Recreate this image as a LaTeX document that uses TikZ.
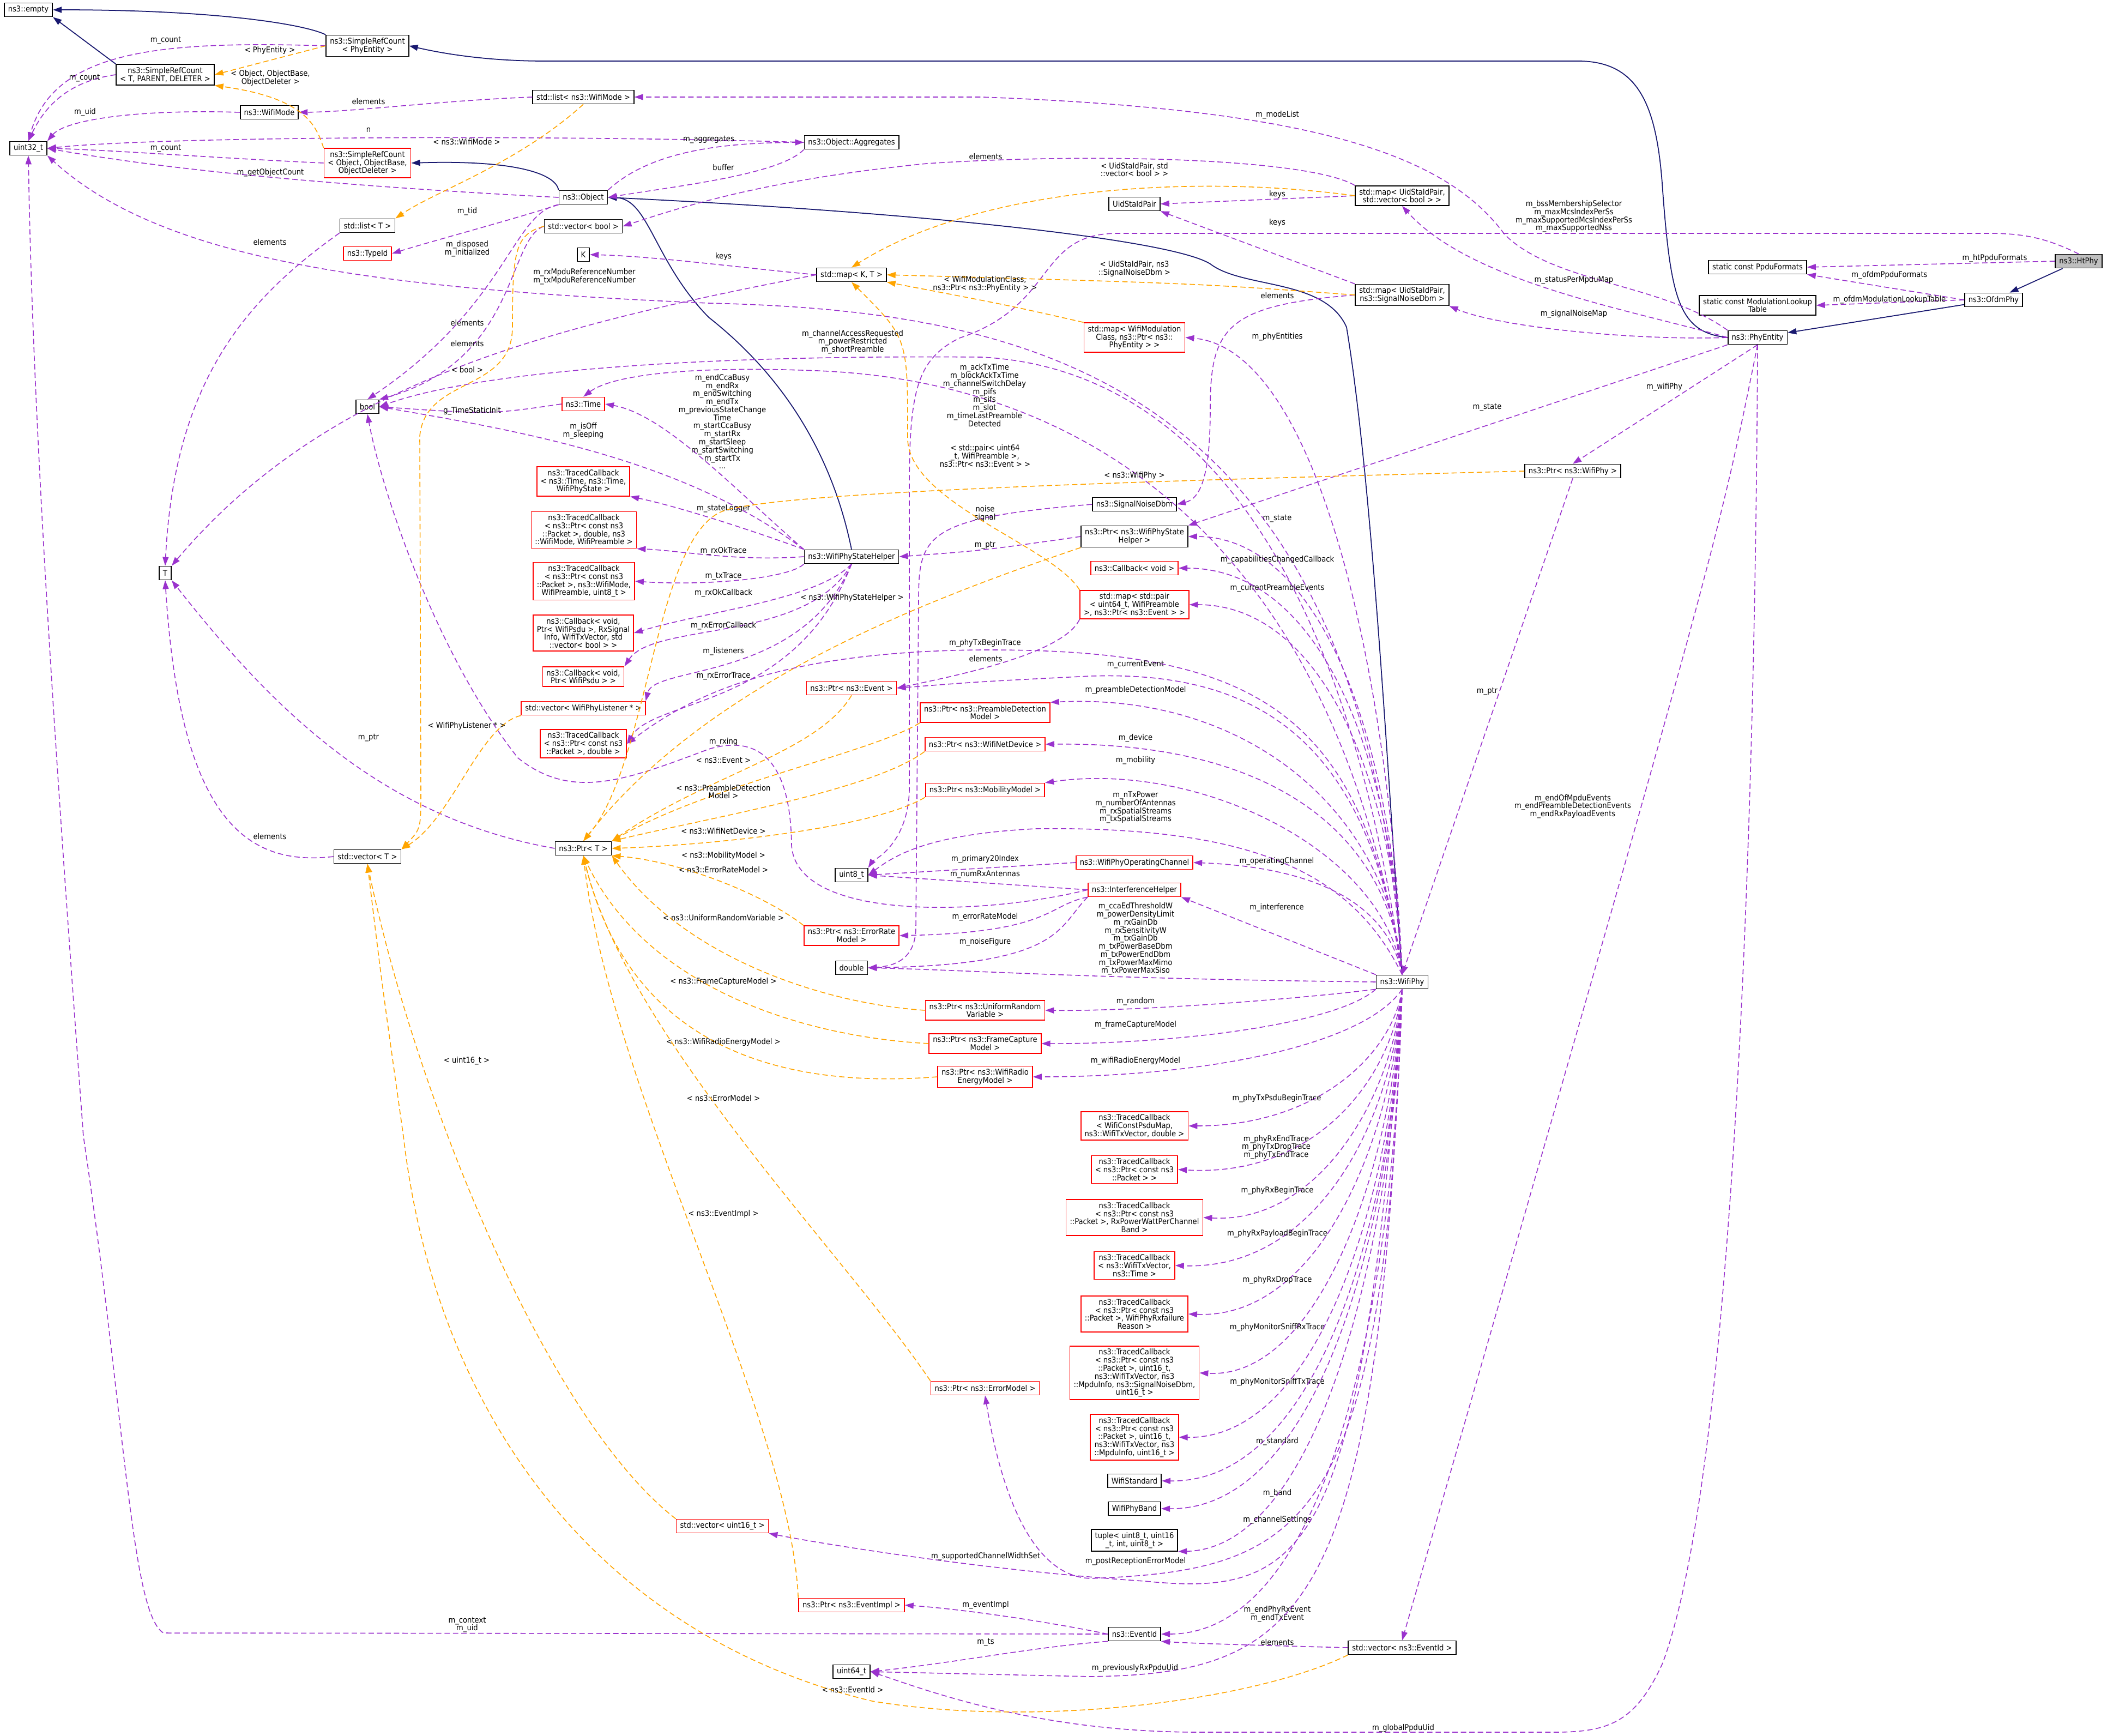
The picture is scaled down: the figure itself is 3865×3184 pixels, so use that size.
\documentclass[tikz,border=0pt]{standalone}
\usepackage{fontspec}
\setmainfont{DejaVu Sans Condensed}
\usetikzlibrary{arrows.meta}
\definecolor{pur}{HTML}{9A32CD}
\definecolor{org}{HTML}{FFA500}
\definecolor{nvy}{HTML}{191970}
\newcommand\ft{\fontsize{4.15}{4.2}\selectfont}
\tikzset{
 box/.style={draw=black,line width=0.5pt,fill=white,align=center,inner xsep=0.07cm,inner ysep=0.05cm,minimum height=0.25cm,font=\ft},
 rbox/.style={box,draw=red},
 lab/.style={font=\ft,align=center,inner sep=0pt},
 tip/.style={-{Triangle[length=0.16cm,width=0.11cm]}},
 pu/.style={draw=pur,line width=0.45pt,dash pattern=on 2.8pt off 1.6pt,tip,pur},
 og/.style={draw=org,line width=0.45pt,dash pattern=on 2.8pt off 1.6pt,tip,org},
 nv/.style={draw=nvy,line width=0.5pt,tip,nvy},
}
\begin{document}
\begin{tikzpicture}[x=0.01cm,y=-0.01cm]
\useasboundingbox[fill=white] (0,0) rectangle (3865,3184);
% nodes
\node[box] (empty) at (52,18) {ns3::empty};
\node[box] (srcPE) at (674,84) {ns3::SimpleRefCount\\< PhyEntity >};
\node[box] (srcT) at (303,137) {ns3::SimpleRefCount\\< T, PARENT, DELETER >};
\node[box] (listWM) at (1070,178) {std::list< ns3::WifiMode >};
\node[box] (wifiMode) at (494,206) {ns3::WifiMode};
\node[box] (u32) at (52,272) {uint32\_t};
\node[rbox] (srcObj) at (674,299) {ns3::SimpleRefCount\\< Object, ObjectBase,\\ObjectDeleter >};
\node[box] (object) at (1070,362) {ns3::Object};
\node[box] (aggr) at (1562,261) {ns3::Object::Aggregates};
\node[box] (listT) at (674,414) {std::list< T >};
\node[box] (vecBool) at (1070,415) {std::vector< bool >};
\node[rbox] (typeId) at (674,465) {ns3::TypeId};
\node[box] (K) at (1070,467) {K};
\node[box] (uidsta) at (2081,374) {UidStaIdPair};
\node[box] (mapUV) at (2572,359) {std::map< UidStaIdPair,\\std::vector< bool > >};
\node[box] (mapKT) at (1562,504) {std::map< K, T >};
\node[box] (mapUS) at (2572,541) {std::map< UidStaIdPair,\\ns3::SignalNoiseDbm >};
\node[rbox] (mapWM) at (2081,619) {std::map< WifiModulation\\Class, ns3::Ptr< ns3::\\PhyEntity > >};
\node[box] (ppdu) at (3224,490) {static const PpduFormats};
\node[box] (mlt) at (3224,560) {static const ModulationLookup\\Table};
\node[box,fill=black!25] (htphy) at (3813,479) {ns3::HtPhy};
\node[box] (ofdm) at (3657,550) {ns3::OfdmPhy};
\node[box] (phyEnt) at (3224,619) {ns3::PhyEntity};
\node[box] (boolN) at (674,746) {bool};
\node[rbox] (timeN) at (1070,741) {ns3::Time};
\node[rbox] (tcTime) at (1070,883) {ns3::TracedCallback\\< ns3::Time, ns3::Time,\\WifiPhyState >};
\node[rbox] (tcRxOk) at (1071,972) {ns3::TracedCallback\\< ns3::Ptr< const ns3\\::Packet >, double, ns3\\::WifiMode, WifiPreamble >};
\node[rbox] (tcTx) at (1071,1066) {ns3::TracedCallback\\< ns3::Ptr< const ns3\\::Packet >, ns3::WifiMode,\\WifiPreamble, uint8\_t >};
\node[box] (T) at (303,1051) {T};
\node[box] (ptrWifiPhy) at (2885,864) {ns3::Ptr< ns3::WifiPhy >};
\node[box] (sndbm) at (2081,925) {ns3::SignalNoiseDbm};
\node[box] (ptrWPSH) at (2081,984) {ns3::Ptr< ns3::WifiPhyState\\Helper >};
\node[box] (wpsh) at (1562,1021) {ns3::WifiPhyStateHelper};
\node[rbox] (cbVoid) at (2081,1042) {ns3::Callback< void >};
\node[rbox] (cbRxOk) at (1070,1161) {ns3::Callback< void,\\Ptr< WifiPsdu >, RxSignal\\Info, WifiTxVector, std\\::vector< bool > >};
\node[rbox] (mapPair) at (2081,1109) {std::map< std::pair\\< uint64\_t, WifiPreamble\\>, ns3::Ptr< ns3::Event > >};
\node[rbox] (cbRxErr) at (1070,1241) {ns3::Callback< void,\\Ptr< WifiPsdu > >};
\node[rbox] (ptrEvent) at (1562,1262) {ns3::Ptr< ns3::Event >};
\node[rbox] (vecListener) at (1070,1299) {std::vector< WifiPhyListener * >};
\node[rbox] (ptrPDM) at (1807,1307) {ns3::Ptr< ns3::PreambleDetection\\Model >};
\node[rbox] (ptrWND) at (1807,1365) {ns3::Ptr< ns3::WifiNetDevice >};
\node[rbox] (tcRxErr) at (1070,1364) {ns3::TracedCallback\\< ns3::Ptr< const ns3\\::Packet >, double >};
\node[rbox] (ptrMM) at (1807,1449) {ns3::Ptr< ns3::MobilityModel >};
\node[box] (ptrT) at (1070,1556) {ns3::Ptr< T >};
\node[box] (vecT) at (674,1571) {std::vector< T >};
\node[rbox] (opch) at (2081,1582) {ns3::WifiPhyOperatingChannel};
\node[box] (u8) at (1562,1605) {uint8\_t};
\node[rbox] (ifh) at (2081,1632) {ns3::InterferenceHelper};
\node[rbox] (ptrERM) at (1562,1716) {ns3::Ptr< ns3::ErrorRate\\Model >};
\node[box] (dbl) at (1562,1775) {double};
\node[box] (wifiPhy) at (2572,1801) {ns3::WifiPhy};
\node[rbox] (ptrURV) at (1807,1853) {ns3::Ptr< ns3::UniformRandom\\Variable >};
\node[rbox] (ptrFCM) at (1807,1914) {ns3::Ptr< ns3::FrameCapture\\Model >};
\node[rbox] (ptrWREM) at (1807,1975) {ns3::Ptr< ns3::WifiRadio\\EnergyModel >};
\node[rbox] (tcPsdu) at (2081,2065) {ns3::TracedCallback\\< WifiConstPsduMap,\\ns3::WifiTxVector, double >};
\node[rbox] (tcPkt) at (2081,2145) {ns3::TracedCallback\\< ns3::Ptr< const ns3\\::Packet > >};
\node[rbox] (tcRxPow) at (2081,2233) {ns3::TracedCallback\\< ns3::Ptr< const ns3\\::Packet >, RxPowerWattPerChannel\\Band >};
\node[rbox] (tcTxVec) at (2081,2321) {ns3::TracedCallback\\< ns3::WifiTxVector,\\ns3::Time >};
\node[rbox] (tcFail) at (2081,2410) {ns3::TracedCallback\\< ns3::Ptr< const ns3\\::Packet >, WifiPhyRxfailure\\Reason >};
\node[rbox] (tcSniffRx) at (2081,2518) {ns3::TracedCallback\\< ns3::Ptr< const ns3\\::Packet >, uint16\_t,\\ns3::WifiTxVector, ns3\\::MpduInfo, ns3::SignalNoiseDbm,\\uint16\_t >};
\node[rbox] (ptrEM) at (1807,2546) {ns3::Ptr< ns3::ErrorModel >};
\node[rbox] (tcSniffTx) at (2081,2636) {ns3::TracedCallback\\< ns3::Ptr< const ns3\\::Packet >, uint16\_t,\\ns3::WifiTxVector, ns3\\::MpduInfo, uint16\_t >};
\node[box] (wstd) at (2081,2716) {WifiStandard};
\node[box] (wband) at (2081,2767) {WifiPhyBand};
\node[rbox] (vecU16) at (1325,2799) {std::vector< uint16\_t >};
\node[box] (tuple) at (2081,2825) {tuple< uint8\_t, uint16\\\_t, int, uint8\_t >};
\node[rbox] (ptrEI) at (1562,2944) {ns3::Ptr< ns3::EventImpl >};
\node[box] (eventId) at (2081,2997) {ns3::EventId};
\node[box] (vecEID) at (2572,3022) {std::vector< ns3::EventId >};
\node[box] (u64) at (1562,3066) {uint64\_t};

% inheritance
\draw[nv] (srcPE.north west) .. controls (560,45) and (400,18) .. (empty.east);
\draw[nv] (srcT.north west) -- (empty.south east);
\draw[nv] (phyEnt.west) .. controls (3080,610) and (3065,550) .. (3050,350) .. controls (3040,200) and (3010,112) .. (2895,112) -- (1000,112) .. controls (900,112) and (820,100) .. (srcPE.east);
\draw[nv] (object.north west) .. controls (1020,320) and (950,293) .. (srcObj.east);
\draw[nv] (wifiPhy.north) .. controls (2550,1500) and (2520,900) .. (2470,600) .. controls (2430,510) and (2280,530) .. (2220,484) .. controls (2150,440) and (1700,390) .. (object.east);
\draw[nv] (wpsh.north) .. controls (1530,850) and (1450,700) .. (1300,582) .. controls (1200,480) and (1190,365) .. (object.east);
\draw[nv] (ofdm) -- (phyEnt);
\draw[nv] (htphy) -- (ofdm);

% purple usage
\draw[pu] (srcPE.west) .. controls (300,75) and (100,90) .. (u32.north);
\node[lab] (l1) at (304,74) {m\_count};
\draw[pu] (srcT.west) .. controls (120,150) and (80,200) .. (u32.north);
\node[lab] (l2) at (155,143) {m\_count};
\draw[pu] (wifiMode.west) .. controls (250,200) and (120,220) .. (u32.north east);
\node[lab] (l3) at (156,206) {m\_uid};
\draw[pu] (aggr.west) .. controls (1000,247) and (300,250) .. (u32.east);
\node[lab] (l4) at (676,238) {n};
\draw[pu] (srcObj.west) .. controls (400,290) and (200,275) .. (u32.east);
\node[lab] (l5) at (304,272) {m\_count};
\draw[pu] (object.west) .. controls (600,340) and (300,310) .. (u32.east);
\node[lab] (l6) at (496,317) {m\_getObjectCount};
\draw[pu] (wifiPhy.north) .. controls (2500,700) and (1900,570) .. (1300,556) .. controls (700,530) and (300,480) .. (u32.south east);
\node[lab] (l7) at (1072,507) {m\_rxMpduReferenceNumber\\m\_txMpduReferenceNumber};
\draw[pu] (eventId.west) -- (300,2995) .. controls (240,2960) and (230,2600) .. (153,2084) .. controls (110,1500) and (60,800) .. (u32.south);
\node[lab] (l8) at (857,2980) {m\_context\\m\_uid};
\draw[pu] (listT.south west) .. controls (450,550) and (320,700) .. (T.north);
\node[lab] (l9) at (495,444) {elements};
\draw[pu] (mapKT.west) .. controls (1000,600) and (600,700) .. (T.north east);
\node[lab] (l10) at (857,592) {elements};
\draw[pu] (vecT.west) .. controls (450,1590) and (330,1500) .. (T.south);
\node[lab] (l11) at (495,1534) {elements};
\draw[pu] (ptrT.west) .. controls (700,1500) and (500,1300) .. (T.south east);
\node[lab] (l12) at (676,1353) {m\_ptr};
\draw[pu] (mapKT.west) .. controls (1350,490) and (1200,470) .. (K.east);
\node[lab] (l13) at (1327,470) {keys};
\draw[pu] (object.south west) .. controls (950,400) and (800,440) .. (typeId.east);
\node[lab] (l14) at (857,388) {m\_tid};
\draw[pu] (object.south west) .. controls (940,390) and (930,560) .. (boolN.north);
\node[lab] (l15) at (857,456) {m\_disposed\\m\_initialized};
\draw[pu] (object.north east) .. controls (1200,270) and (1350,262) .. (aggr.west);
\node[lab] (l16) at (1300,256) {m\_aggregates};
\draw[pu] (aggr.south west) .. controls (1430,320) and (1250,340) .. (object.east);
\node[lab] (l17) at (1327,307) {buffer};
\draw[pu] (vecBool.west) .. controls (930,440) and (950,660) .. (boolN.north east);
\node[lab] (l18) at (857,630) {elements};
\draw[pu] (timeN.west) .. controls (900,760) .. (boolN.east);
\node[lab] (l19) at (866,754) {g\_TimeStaticInit};
\draw[pu] (wpsh.north west) .. controls (1250,840) and (950,790) .. (boolN.east);
\node[lab] (l20) at (1070,790) {m\_isOff\\m\_sleeping};
\draw[pu] (wifiPhy.north) .. controls (2450,900) and (2100,670) .. (1800,655) .. controls (1200,650) and (850,690) .. (boolN.east);
\node[lab] (l21) at (1564,627) {m\_channelAccessRequested\\m\_powerRestricted\\m\_shortPreamble};
\draw[pu] (wpsh.north west) .. controls (1350,900) and (1220,760) .. (timeN.east);
\node[lab] (l22) at (1325,773) {m\_endCcaBusy\\m\_endRx\\m\_endSwitching\\m\_endTx\\m\_previousStateChange\\Time\\m\_startCcaBusy\\m\_startRx\\m\_startSleep\\m\_startSwitching\\m\_startTx\\...};
\draw[pu] (wifiPhy.north) .. controls (2450,1000) and (2000,700) .. (1500,680) .. controls (1250,670) and (1120,690) .. (timeN.north);
\node[lab] (l23) at (1806,725) {m\_ackTxTime\\m\_blockAckTxTime\\m\_channelSwitchDelay\\m\_pifs\\m\_sifs\\m\_slot\\m\_timeLastPreamble\\Detected};
\draw[pu] (listWM.west) .. controls (800,185) and (650,205) .. (wifiMode.east);
\node[lab] (l24) at (676,186) {elements};
\draw[pu] (phyEnt.north west) .. controls (3050,520) and (2850,520) .. (2760,430) .. controls (2650,280) and (2400,200) .. (1800,178) -- (listWM.east);
\node[lab] (l25) at (2343,211) {m\_modeList};
\draw[pu] (htphy.north) .. controls (3760,440) and (3720,428) .. (3650,428) -- (2050,428) .. controls (1900,428) and (1940,560) .. (1760,620) .. controls (1680,660) and (1668,720) .. (1668,900) -- (1668,1450) .. controls (1665,1550) and (1600,1580) .. (u8.north east);
\node[lab] (l26) at (2887,397) {m\_bssMembershipSelector\\m\_maxMcsIndexPerSs\\m\_maxSupportedMcsIndexPerSs\\m\_maxSupportedNss};
\draw[pu] (mapUV.west) -- (uidsta.east);
\node[lab] (l27) at (2343,356) {keys};
\draw[pu] (mapUV.north west) .. controls (2400,290) and (2000,280) .. (1700,300) .. controls (1400,330) and (1250,380) .. (vecBool.east);
\node[lab] (l28) at (1808,287) {elements};
\draw[pu] (mapUS.north west) -- (uidsta.south east);
\node[lab] (l29) at (2343,408) {keys};
\draw[pu] (mapUS.west) .. controls (2250,560) and (2220,600) .. (2220,750) .. controls (2220,880) and (2200,915) .. (sndbm.east);
\node[lab] (l30) at (2343,542) {elements};
\draw[pu] (wifiPhy.north) .. controls (2550,1250) and (2420,640) .. (mapWM.east);
\node[lab] (l31) at (2343,618) {m\_phyEntities};
\draw[pu] (phyEnt.west) .. controls (3000,570) and (2700,520) .. (mapUV.south);
\node[lab] (l32) at (2887,514) {m\_statusPerMpduMap};
\draw[pu] (phyEnt.west) .. controls (3000,625) and (2750,600) .. (mapUS.south east);
\node[lab] (l33) at (2887,576) {m\_signalNoiseMap};
\draw[pu] (phyEnt.south west) -- (ptrWPSH.north east);
\node[lab] (l34) at (2728,747) {m\_state};
\draw[pu] (phyEnt.south) -- (ptrWifiPhy.north);
\node[lab] (l35) at (3053,710) {m\_wifiPhy};
\draw[pu] (phyEnt.south) .. controls (3150,1000) .. (vecEID.north);
\node[lab] (l36) at (2885,1479) {m\_endOfMpduEvents\\m\_endPreambleDetectionEvents\\m\_endRxPayloadEvents};
\draw[pu] (phyEnt.south) .. controls (3220,1500) and (3180,2700) .. (3050,3050) .. controls (3000,3160) and (2950,3177) .. (2850,3177) -- (2200,3177) .. controls (1900,3177) and (1700,3100) .. (u64.east);
\node[lab] (l37) at (2574,3170) {m\_globalPpduUid};
\draw[pu] (htphy.west) -- (ppdu.east);
\node[lab] (l38) at (3659,474) {m\_htPpduFormats};
\draw[pu] (ofdm.west) -- (ppdu.south east);
\node[lab] (l39) at (3466,505) {m\_ofdmPpduFormats};
\draw[pu] (ofdm.west) -- (mlt.east);
\node[lab] (l40) at (3466,550) {m\_ofdmModulationLookupTable};
\draw[pu] (ptrWifiPhy.south) -- (wifiPhy.north);
\node[lab] (l41) at (2728,1268) {m\_ptr};
\draw[pu] (wifiPhy.north) .. controls (2555,1350) and (2420,984) .. (ptrWPSH.east);
\node[lab] (l42) at (2343,951) {m\_state};
\draw[pu] (ptrWPSH.west) .. controls (1800,1010) .. (wpsh.east);
\node[lab] (l43) at (1807,1000) {m\_ptr};
\draw[pu] (sndbm.west) .. controls (1700,950) and (1685,980) .. (1685,1100) -- (1680,1700) .. controls (1680,1760) and (1640,1772) .. (dbl.east);
\node[lab] (l44) at (1807,942) {noise\\signal};
\draw[pu] (wifiPhy.north) .. controls (2555,1380) and (2420,1042) .. (cbVoid.east);
\node[lab] (l45) at (2343,1027) {m\_capabilitiesChangedCallback};
\draw[pu] (wifiPhy.north) .. controls (2555,1420) and (2420,1109) .. (mapPair.east);
\node[lab] (l46) at (2343,1079) {m\_currentPreambleEvents};
\draw[pu] (wpsh.north west) .. controls (1400,980) and (1250,930) .. (tcTime.south east);
\node[lab] (l47) at (1327,933) {m\_stateLogger};
\draw[pu] (wpsh.west) .. controls (1350,1030) and (1250,1010) .. (tcRxOk.south east);
\node[lab] (l48) at (1327,1011) {m\_rxOkTrace};
\draw[pu] (wpsh.south west) .. controls (1450,1060) and (1300,1075) .. (tcTx.east);
\node[lab] (l49) at (1327,1057) {m\_txTrace};
\draw[pu] (wpsh.south) .. controls (1500,1100) and (1300,1120) .. (cbRxOk.east);
\node[lab] (l50) at (1327,1088) {m\_rxOkCallback};
\draw[pu] (wpsh.south) .. controls (1480,1180) and (1200,1140) .. (cbRxErr.north east);
\node[lab] (l51) at (1327,1148) {m\_rxErrorCallback};
\draw[pu] (wpsh.south) .. controls (1470,1250) and (1200,1220) .. (vecListener.north east);
\node[lab] (l52) at (1327,1195) {m\_listeners};
\draw[pu] (wpsh.south) .. controls (1460,1300) and (1200,1280) .. (tcRxErr.east);
\node[lab] (l53) at (1327,1240) {m\_rxErrorTrace};
\draw[pu] (wifiPhy.north) .. controls (2500,1300) and (2300,1190) .. (1800,1192) .. controls (1400,1195) and (1250,1290) .. (tcRxErr.east);
\node[lab] (l54) at (1807,1180) {m\_phyTxBeginTrace};
\draw[pu] (wifiPhy.north) .. controls (2510,1350) and (2300,1230) .. (2000,1240) .. controls (1800,1250) .. (ptrEvent.east);
\node[lab] (l55) at (2083,1219) {m\_currentEvent};
\draw[pu] (mapPair.south west) .. controls (1950,1200) and (1750,1240) .. (ptrEvent.east);
\node[lab] (l56) at (1808,1208) {elements};
\draw[pu] (ifh.west) .. controls (1800,1680) and (1460,1690) .. (1452,1550) .. controls (1450,1380) and (1380,1350) .. (1300,1374) .. controls (1150,1430) and (1050,1470) .. (950,1390) .. controls (800,1200) and (700,900) .. (boolN.south);
\node[lab] (l57) at (1327,1361) {m\_rxing};
\draw[pu] (wifiPhy.north) .. controls (2550,1500) and (2300,1270) .. (ptrPDM.north east);
\node[lab] (l58) at (2083,1266) {m\_preambleDetectionModel};
\draw[pu] (wifiPhy.north) .. controls (2550,1540) and (2350,1360) .. (ptrWND.east);
\node[lab] (l59) at (2083,1354) {m\_device};
\draw[pu] (wifiPhy.north) .. controls (2540,1560) and (2200,1395) .. (ptrMM.north east);
\node[lab] (l60) at (2083,1395) {m\_mobility};
\draw[pu] (wifiPhy.north) .. controls (2480,1600) and (2300,1515) .. (1900,1520) .. controls (1700,1530) and (1640,1570) .. (u8.east);
\node[lab] (l61) at (2083,1481) {m\_nTxPower\\m\_numberOfAntennas\\m\_rxSpatialStreams\\m\_txSpatialStreams};
\draw[pu] (opch.west) -- (u8.east);
\node[lab] (l62) at (1807,1576) {m\_primary20Index};
\draw[pu] (ifh.west) -- (u8.east);
\node[lab] (l63) at (1807,1604) {m\_numRxAntennas};
\draw[pu] (wifiPhy.north) .. controls (2545,1650) and (2400,1590) .. (opch.east);
\node[lab] (l64) at (2342,1580) {m\_operatingChannel};
\draw[pu] (wifiPhy.north west) -- (ifh.south east);
\node[lab] (l65) at (2342,1665) {m\_interference};
\draw[pu] (ifh.south west) .. controls (1920,1660) and (1930,1710) .. (ptrERM.east);
\node[lab] (l66) at (1807,1682) {m\_errorRateModel};
\draw[pu] (ifh.south west) .. controls (1940,1700) and (1950,1770) .. (dbl.east);
\node[lab] (l67) at (1807,1728) {m\_noiseFigure};
\draw[pu] (wifiPhy.west) .. controls (2000,1795) and (1800,1780) .. (dbl.east);
\node[lab] (l68) at (2083,1722) {m\_ccaEdThresholdW\\m\_powerDensityLimit\\m\_rxGainDb\\m\_rxSensitivityW\\m\_txGainDb\\m\_txPowerBaseDbm\\m\_txPowerEndDbm\\m\_txPowerMaxMimo\\m\_txPowerMaxSiso};
\draw[pu] (wifiPhy.south west) .. controls (2400,1830) and (2100,1855) .. (ptrURV.east);
\node[lab] (l69) at (2083,1837) {m\_random};
\draw[pu] (wifiPhy.south west) .. controls (2450,1880) and (2150,1915) .. (ptrFCM.east);
\node[lab] (l70) at (2083,1880) {m\_frameCaptureModel};
\draw[pu] (wifiPhy.south) .. controls (2500,1920) and (2200,1975) .. (ptrWREM.east);
\node[lab] (l71) at (2083,1946) {m\_wifiRadioEnergyModel};
\draw[pu] (wifiPhy.south) .. controls (2555,1930) and (2420,2065) .. (tcPsdu.east);
\node[lab] (l72) at (2342,2015) {m\_phyTxPsduBeginTrace};
\draw[pu] (wifiPhy.south) .. controls (2555,1970) and (2420,2160) .. (tcPkt.east);
\node[lab] (l73) at (2341,2104) {m\_phyRxEndTrace\\m\_phyTxDropTrace\\m\_phyTxEndTrace};
\draw[pu] (wifiPhy.south) .. controls (2555,2010) and (2420,2245) .. (tcRxPow.east);
\node[lab] (l74) at (2343,2184) {m\_phyRxBeginTrace};
\draw[pu] (wifiPhy.south) .. controls (2555,2050) and (2420,2330) .. (tcTxVec.east);
\node[lab] (l75) at (2343,2263) {m\_phyRxPayloadBeginTrace};
\draw[pu] (wifiPhy.south) .. controls (2555,2090) and (2420,2420) .. (tcFail.east);
\node[lab] (l76) at (2343,2348) {m\_phyRxDropTrace};
\draw[pu] (wifiPhy.south) .. controls (2555,2140) and (2420,2530) .. (tcSniffRx.east);
\node[lab] (l77) at (2343,2435) {m\_phyMonitorSniffRxTrace};
\draw[pu] (wifiPhy.south) .. controls (2555,2190) and (2420,2640) .. (tcSniffTx.east);
\node[lab] (l78) at (2343,2535) {m\_phyMonitorSniffTxTrace};
\draw[pu] (wifiPhy.south) .. controls (2555,2230) and (2420,2720) .. (wstd.east);
\node[lab] (l79) at (2343,2644) {m\_standard};
\draw[pu] (wifiPhy.south) .. controls (2555,2250) and (2420,2770) .. (wband.east);
\node[lab] (l80) at (2343,2739) {m\_band};
\draw[pu] (wifiPhy.south) .. controls (2555,2280) and (2420,2840) .. (tuple.south east);
\node[lab] (l81) at (2343,2788) {m\_channelSettings};
\draw[pu] (wifiPhy.south) .. controls (2540,2800) and (2400,2880) .. (2000,2895) .. controls (1880,2890) and (1830,2700) .. (ptrEM.south);
\node[lab] (l82) at (2083,2864) {m\_postReceptionErrorModel};
\draw[pu] (wifiPhy.south) .. controls (2500,2850) and (2400,2930) .. (2100,2900) .. controls (1800,2880) and (1500,2830) .. (vecU16.south east);
\node[lab] (l83) at (1808,2855) {m\_supportedChannelWidthSet};
\draw[pu] (wifiPhy.south) .. controls (2555,2450) and (2420,2997) .. (eventId.east);
\node[lab] (l84) at (2343,2960) {m\_endPhyRxEvent\\m\_endTxEvent};
\draw[pu] (vecEID.west) .. controls (2400,3020) and (2200,3015) .. (eventId.south east);
\node[lab] (l85) at (2343,3012) {elements};
\draw[pu] (eventId.west) .. controls (1900,2970) and (1750,2950) .. (ptrEI.east);
\node[lab] (l86) at (1808,2944) {m\_eventImpl};
\draw[pu] (eventId.south west) .. controls (1900,3020) and (1750,3050) .. (u64.east);
\node[lab] (l87) at (1808,3012) {m\_ts};
\draw[pu] (wifiPhy.south) .. controls (2530,2950) and (2400,3070) .. (2000,3075) -- (u64.east);
\node[lab] (l88) at (2082,3060) {m\_previouslyRxPpduUid};

% orange template instantiation
\draw[og] (srcPE.west) -- (srcT.east);
\node[lab] (o1) at (495,92) {< PhyEntity >};
\draw[og] (srcObj.north west) .. controls (580,230) and (560,180) .. (srcT.south east);
\node[lab] (o2) at (496,143) {< Object, ObjectBase,\\ObjectDeleter >};
\draw[og] (listWM.south) .. controls (950,300) and (800,350) .. (listT.north east);
\node[lab] (o3) at (856,260) {< ns3::WifiMode >};
\draw[og] (vecBool.west) .. controls (945,430) and (940,460) .. (940,600) .. controls (940,720) and (780,690) .. (770,800) -- (772,1450) .. controls (772,1520) .. (vecT.north east);
\node[lab] (o4) at (857,678) {< bool >};
\draw[og] (vecListener.south west) .. controls (880,1330) and (830,1500) .. (vecT.north east);
\node[lab] (o5) at (856,1331) {< WifiPhyListener * >};
\draw[og] (vecU16.north west) .. controls (1000,2600) and (760,2000) .. (vecT.south);
\node[lab] (o6) at (856,1946) {< uint16\_t >};
\draw[og] (vecEID.south west) .. controls (2300,3120) and (1900,3170) .. (1600,3120) .. controls (1100,3000) and (800,2600) .. (740,2084) .. controls (700,1800) .. (vecT.south);
\node[lab] (o7) at (1564,3099) {< ns3::EventId >};
\draw[og] (mapUV.west) .. controls (2200,320) and (1800,340) .. (mapKT.north);
\node[lab] (o8) at (2081,311) {< UidStaIdPair, std\\::vector< bool > >};
\draw[og] (mapUS.west) .. controls (2200,520) .. (mapKT.east);
\node[lab] (o9) at (2081,493) {< UidStaIdPair, ns3\\::SignalNoiseDbm >};
\draw[og] (mapWM.north west) .. controls (1850,560) .. (mapKT.south east);
\node[lab] (o10) at (1807,521) {< WifiModulationClass,\\ns3::Ptr< ns3::PhyEntity > >};
\draw[og] (mapPair.north west) .. controls (1930,1000) and (1660,920) .. (1665,800) .. controls (1665,620) .. (mapKT.south);
\node[lab] (o11) at (1807,836) {< std::pair< uint64\\\_t, WifiPreamble >,\\ns3::Ptr< ns3::Event > >};
\draw[og] (ptrWifiPhy.west) .. controls (2200,880) and (1400,900) .. (1320,940) .. controls (1200,1000) and (1190,1400) .. (ptrT.north);
\node[lab] (o12) at (2081,872) {< ns3::WifiPhy >};
\draw[og] (ptrWPSH.south west) .. controls (1700,1100) and (1300,1250) .. (ptrT.north);
\node[lab] (o13) at (1563,1096) {< ns3::WifiPhyStateHelper >};
\draw[og] (ptrEvent.south) .. controls (1500,1380) and (1300,1420) .. (ptrT.north east);
\node[lab] (o14) at (1327,1394) {< ns3::Event >};
\draw[og] (ptrPDM.south west) .. controls (1600,1380) and (1300,1440) .. (ptrT.north east);
\node[lab] (o15) at (1327,1452) {< ns3::PreambleDetection\\Model >};
\draw[og] (ptrWND.south west) .. controls (1600,1450) and (1300,1500) .. (ptrT.north east);
\node[lab] (o16) at (1327,1524) {< ns3::WifiNetDevice >};
\draw[og] (ptrMM.south west) .. controls (1600,1520) and (1300,1550) .. (ptrT.east);
\node[lab] (o17) at (1327,1569) {< ns3::MobilityModel >};
\draw[og] (ptrERM.north west) .. controls (1400,1640) and (1250,1580) .. (ptrT.south east);
\node[lab] (o18) at (1327,1595) {< ns3::ErrorRateModel >};
\draw[og] (ptrURV.west) .. controls (1500,1840) and (1250,1750) .. (ptrT.south east);
\node[lab] (o19) at (1327,1683) {< ns3::UniformRandomVariable >};
\draw[og] (ptrFCM.west) .. controls (1450,1900) and (1180,1800) .. (ptrT.south);
\node[lab] (o20) at (1327,1800) {< ns3::FrameCaptureModel >};
\draw[og] (ptrWREM.west) .. controls (1400,2000) and (1150,1900) .. (ptrT.south);
\node[lab] (o21) at (1327,1911) {< ns3::WifiRadioEnergyModel >};
\draw[og] (ptrEM.north west) .. controls (1550,2300) and (1150,1900) .. (ptrT.south);
\node[lab] (o22) at (1327,2014) {< ns3::ErrorModel >};
\draw[og] (ptrEI.north west) .. controls (1450,2600) and (1120,2000) .. (ptrT.south);
\node[lab] (o23) at (1327,2226) {< ns3::EventImpl >};
\end{tikzpicture}
\end{document}
